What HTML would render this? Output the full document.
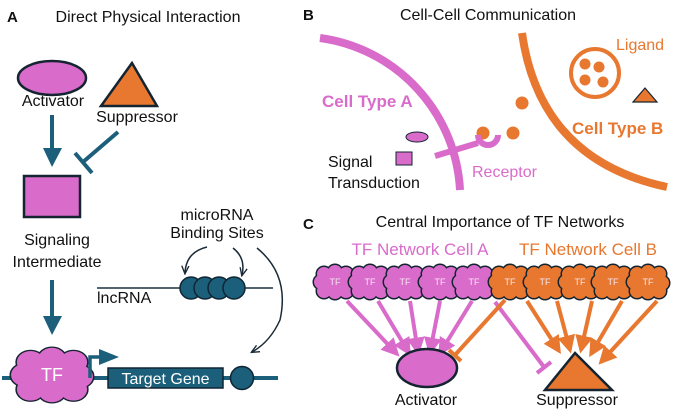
<!DOCTYPE html>
<html><head><meta charset="utf-8"><style>
html,body{margin:0;padding:0;background:#fff;}
svg{display:block;font-family:"Liberation Sans",Arial,sans-serif;}
</style></head><body>
<svg width="680" height="416" viewBox="0 0 680 416" xmlns="http://www.w3.org/2000/svg">
<defs>
<marker id="mp" viewBox="0 0 10 10" refX="8" refY="5" markerWidth="4.5" markerHeight="4.5" orient="auto" markerUnits="strokeWidth"><path d="M0,0 L10,5 L0,10 z" fill="#d96bcb"/></marker>
<marker id="mo" viewBox="0 0 10 10" refX="8" refY="5" markerWidth="4.5" markerHeight="4.5" orient="auto" markerUnits="strokeWidth"><path d="M0,0 L10,5 L0,10 z" fill="#e8772f"/></marker>
<marker id="md" viewBox="0 0 10 10" refX="8" refY="5" markerWidth="6" markerHeight="6" orient="auto" markerUnits="strokeWidth"><path d="M0,1 L9,5 L0,9" fill="none" stroke="#1a2a36" stroke-width="1.5"/></marker>
<g id="cb">
<circle cx="-11" cy="-8" r="7"/><circle cx="0" cy="-10" r="7"/><circle cx="11" cy="-8" r="7"/><circle cx="14" cy="1" r="7"/><circle cx="11" cy="9" r="7"/><circle cx="0" cy="10" r="7"/><circle cx="-11" cy="9" r="7"/><circle cx="-14" cy="0" r="7"/><circle cx="0" cy="0" r="10"/>
</g>
<g id="cp"><use href="#cb" fill="#142430" stroke="#142430" stroke-width="3"/><use href="#cb" fill="#d96bcb"/></g>
<g id="co"><use href="#cb" fill="#142430" stroke="#142430" stroke-width="3"/><use href="#cb" fill="#e8772f"/></g>
</defs>

<!-- Panel A -->
<text x="7" y="22" font-size="15" font-weight="bold" fill="#111">A</text>
<text x="148" y="22" font-size="16" text-anchor="middle" fill="#111">Direct Physical Interaction</text>
<ellipse cx="52" cy="78" rx="34" ry="17" fill="#d96bcb" stroke="#142430" stroke-width="2.5"/>
<polygon points="132,63 101,106 157,106" fill="#e8772f" stroke="#142430" stroke-width="2.5"/>
<text x="53" y="106" font-size="16" text-anchor="middle" fill="#111">Activator</text>
<text x="137" y="122" font-size="16" text-anchor="middle" fill="#111">Suppressor</text>
<line x1="52" y1="115" x2="52" y2="150" stroke="#1b5f7b" stroke-width="4"/>
<polygon points="43,148 62,148 52,167" fill="#1b5f7b"/>
<line x1="118" y1="132" x2="83" y2="162" stroke="#1b5f7b" stroke-width="4"/>
<line x1="75" y1="153" x2="92" y2="173" stroke="#1b5f7b" stroke-width="4"/>
<rect x="24" y="176" width="56" height="41" fill="#d96bcb" stroke="#142430" stroke-width="2.5"/>
<text x="57" y="245" font-size="16" text-anchor="middle" fill="#111">Signaling</text>
<text x="57" y="267" font-size="16" text-anchor="middle" fill="#111">Intermediate</text>
<line x1="52" y1="280" x2="52" y2="318" stroke="#1b5f7b" stroke-width="4"/>
<polygon points="43,316 62,316 52,335" fill="#1b5f7b"/>
<line x1="97" y1="288" x2="273" y2="288" stroke="#1a3040" stroke-width="1.5"/>
<text x="97" y="303" font-size="16" fill="#111">lncRNA</text>
<g fill="#1b5f7b" stroke="#102533" stroke-width="1.5">
<circle cx="191" cy="288" r="11"/><circle cx="205" cy="288" r="11"/><circle cx="219" cy="288" r="11"/><circle cx="234" cy="288" r="11"/>
</g>
<text x="217" y="220" font-size="16" text-anchor="middle" fill="#111">microRNA</text>
<text x="217" y="238" font-size="16" text-anchor="middle" fill="#111">Binding Sites</text>
<path d="M207,247 Q186,252 185,273" fill="none" stroke="#1a2a36" stroke-width="1.5" marker-end="url(#md)"/>
<path d="M233,248 Q246,258 242,275" fill="none" stroke="#1a2a36" stroke-width="1.5" marker-end="url(#md)"/>
<path d="M257,248 Q290,275 280,320 Q270,342 252,352" fill="none" stroke="#1a2a36" stroke-width="1.5" marker-end="url(#md)"/>
<line x1="2" y1="378" x2="278" y2="378" stroke="#1b5f7b" stroke-width="4"/>
<g transform="translate(52,375) scale(1.95,1.6)">
<use href="#cb" fill="#142430" stroke="#142430" stroke-width="1.6"/>
<use href="#cb" fill="#d96bcb"/>
</g>
<text x="52" y="381" font-size="18" text-anchor="middle" fill="#fff">TF</text>
<path d="M90,378 L90,357 L103,357" fill="none" stroke="#1b5f7b" stroke-width="3.5"/>
<polygon points="99,349 119,357 99,365" fill="#1b5f7b"/>
<rect x="108" y="368" width="115" height="20" fill="#1b5f7b" stroke="#102533" stroke-width="1.5"/>
<text x="165.5" y="384" font-size="16" text-anchor="middle" fill="#fff">Target Gene</text>
<circle cx="242" cy="378" r="11.5" fill="#1b5f7b" stroke="#102533" stroke-width="1.5"/>

<!-- Panel B -->
<text x="303" y="20" font-size="15" font-weight="bold" fill="#111">B</text>
<text x="488" y="20" font-size="16" text-anchor="middle" fill="#111">Cell-Cell Communication</text>
<path d="M320,38 A162,162 0 0 1 460,190" fill="none" stroke="#d96bcb" stroke-width="8"/>
<path d="M522,33 Q540,160 667,187" fill="none" stroke="#e8772f" stroke-width="8"/>
<text x="322" y="107" font-size="17" font-weight="bold" fill="#d96bcb">Cell Type A</text>
<text x="572" y="134" font-size="17" font-weight="bold" fill="#e8772f">Cell Type B</text>
<text x="616" y="50" font-size="16" fill="#e8772f">Ligand</text>
<circle cx="595" cy="73" r="24" fill="none" stroke="#e8772f" stroke-width="4"/>
<g fill="#e8772f"><circle cx="585" cy="64" r="5.5"/><circle cx="599" cy="67" r="5.5"/><circle cx="585" cy="80" r="5.5"/><circle cx="603" cy="82" r="5.5"/>
<circle cx="522" cy="103" r="6.5"/><circle cx="513" cy="133" r="6.5"/><circle cx="483" cy="133" r="6.5"/></g>
<polygon points="633,102 657,102 645,88" fill="#e8772f" stroke="#142430" stroke-width="1.2"/>
<line x1="435" y1="156" x2="478" y2="143" stroke="#d96bcb" stroke-width="6"/>
<path d="M478,135 A10,10 0 0 0 498,135" fill="none" stroke="#d96bcb" stroke-width="6"/>
<ellipse cx="417" cy="137" rx="11" ry="5" fill="#d96bcb" stroke="#142430" stroke-width="1"/>
<rect x="396" y="152" width="16" height="13" fill="#d96bcb" stroke="#142430" stroke-width="1"/>
<text x="328" y="167" font-size="16" fill="#111">Signal</text>
<text x="328" y="188" font-size="16" fill="#111">Transduction</text>
<text x="472" y="177" font-size="16" fill="#d96bcb">Receptor</text>

<!-- Panel C -->
<text x="303" y="229" font-size="15" font-weight="bold" fill="#111">C</text>
<text x="500" y="227" font-size="16" text-anchor="middle" fill="#111">Central Importance of TF Networks</text>
<text x="420" y="255" font-size="17" text-anchor="middle" fill="#d96bcb">TF Network Cell A</text>
<text x="588" y="255" font-size="17" text-anchor="middle" fill="#e8772f">TF Network Cell B</text>
<use href="#cp" x="335" y="282"/><use href="#cp" x="370" y="282"/><use href="#cp" x="405" y="282"/><use href="#cp" x="440" y="282"/><use href="#cp" x="474" y="282"/>
<use href="#co" x="510" y="282"/><use href="#co" x="545" y="282"/><use href="#co" x="580" y="282"/><use href="#co" x="613" y="282"/><use href="#co" x="648" y="282"/>
<g font-size="9" fill="#f6e6f3" text-anchor="middle">
<text x="335" y="285">TF</text><text x="370" y="285">TF</text><text x="405" y="285">TF</text><text x="440" y="285">TF</text><text x="474" y="285">TF</text>
<text x="510" y="285">TF</text><text x="545" y="285">TF</text><text x="580" y="285">TF</text><text x="613" y="285">TF</text><text x="648" y="285">TF</text>
</g>
<g stroke="#d96bcb" stroke-width="4" fill="none">
<line x1="347" y1="301" x2="397" y2="354" marker-end="url(#mp)"/>
<line x1="378" y1="301" x2="409" y2="353" marker-end="url(#mp)"/>
<line x1="410" y1="301" x2="418" y2="352" marker-end="url(#mp)"/>
<line x1="440" y1="301" x2="430" y2="352" marker-end="url(#mp)"/>
<line x1="472" y1="301" x2="440" y2="353" marker-end="url(#mp)"/>
<line x1="495" y1="302" x2="544" y2="367"/>
<line x1="537" y1="373" x2="551" y2="362"/>
</g>
<g stroke="#e8772f" stroke-width="4" fill="none">
<line x1="505" y1="300" x2="455" y2="355"/>
<line x1="449" y1="350" x2="461" y2="361"/>
<line x1="527" y1="301" x2="559" y2="351" marker-end="url(#mo)"/>
<line x1="557" y1="301" x2="570" y2="350" marker-end="url(#mo)"/>
<line x1="592" y1="301" x2="581" y2="350" marker-end="url(#mo)"/>
<line x1="622" y1="301" x2="591" y2="354" marker-end="url(#mo)"/>
<line x1="657" y1="301" x2="601" y2="362" marker-end="url(#mo)"/>
</g>
<ellipse cx="427" cy="368" rx="30" ry="19" fill="#d96bcb" stroke="#142430" stroke-width="2.5"/>
<polygon points="575,353 545,390 612,390" fill="#e8772f" stroke="#142430" stroke-width="2.5"/>
<text x="426" y="405" font-size="16" text-anchor="middle" fill="#111">Activator</text>
<text x="577" y="405" font-size="16" text-anchor="middle" fill="#111">Suppressor</text>
</svg>
</body></html>
